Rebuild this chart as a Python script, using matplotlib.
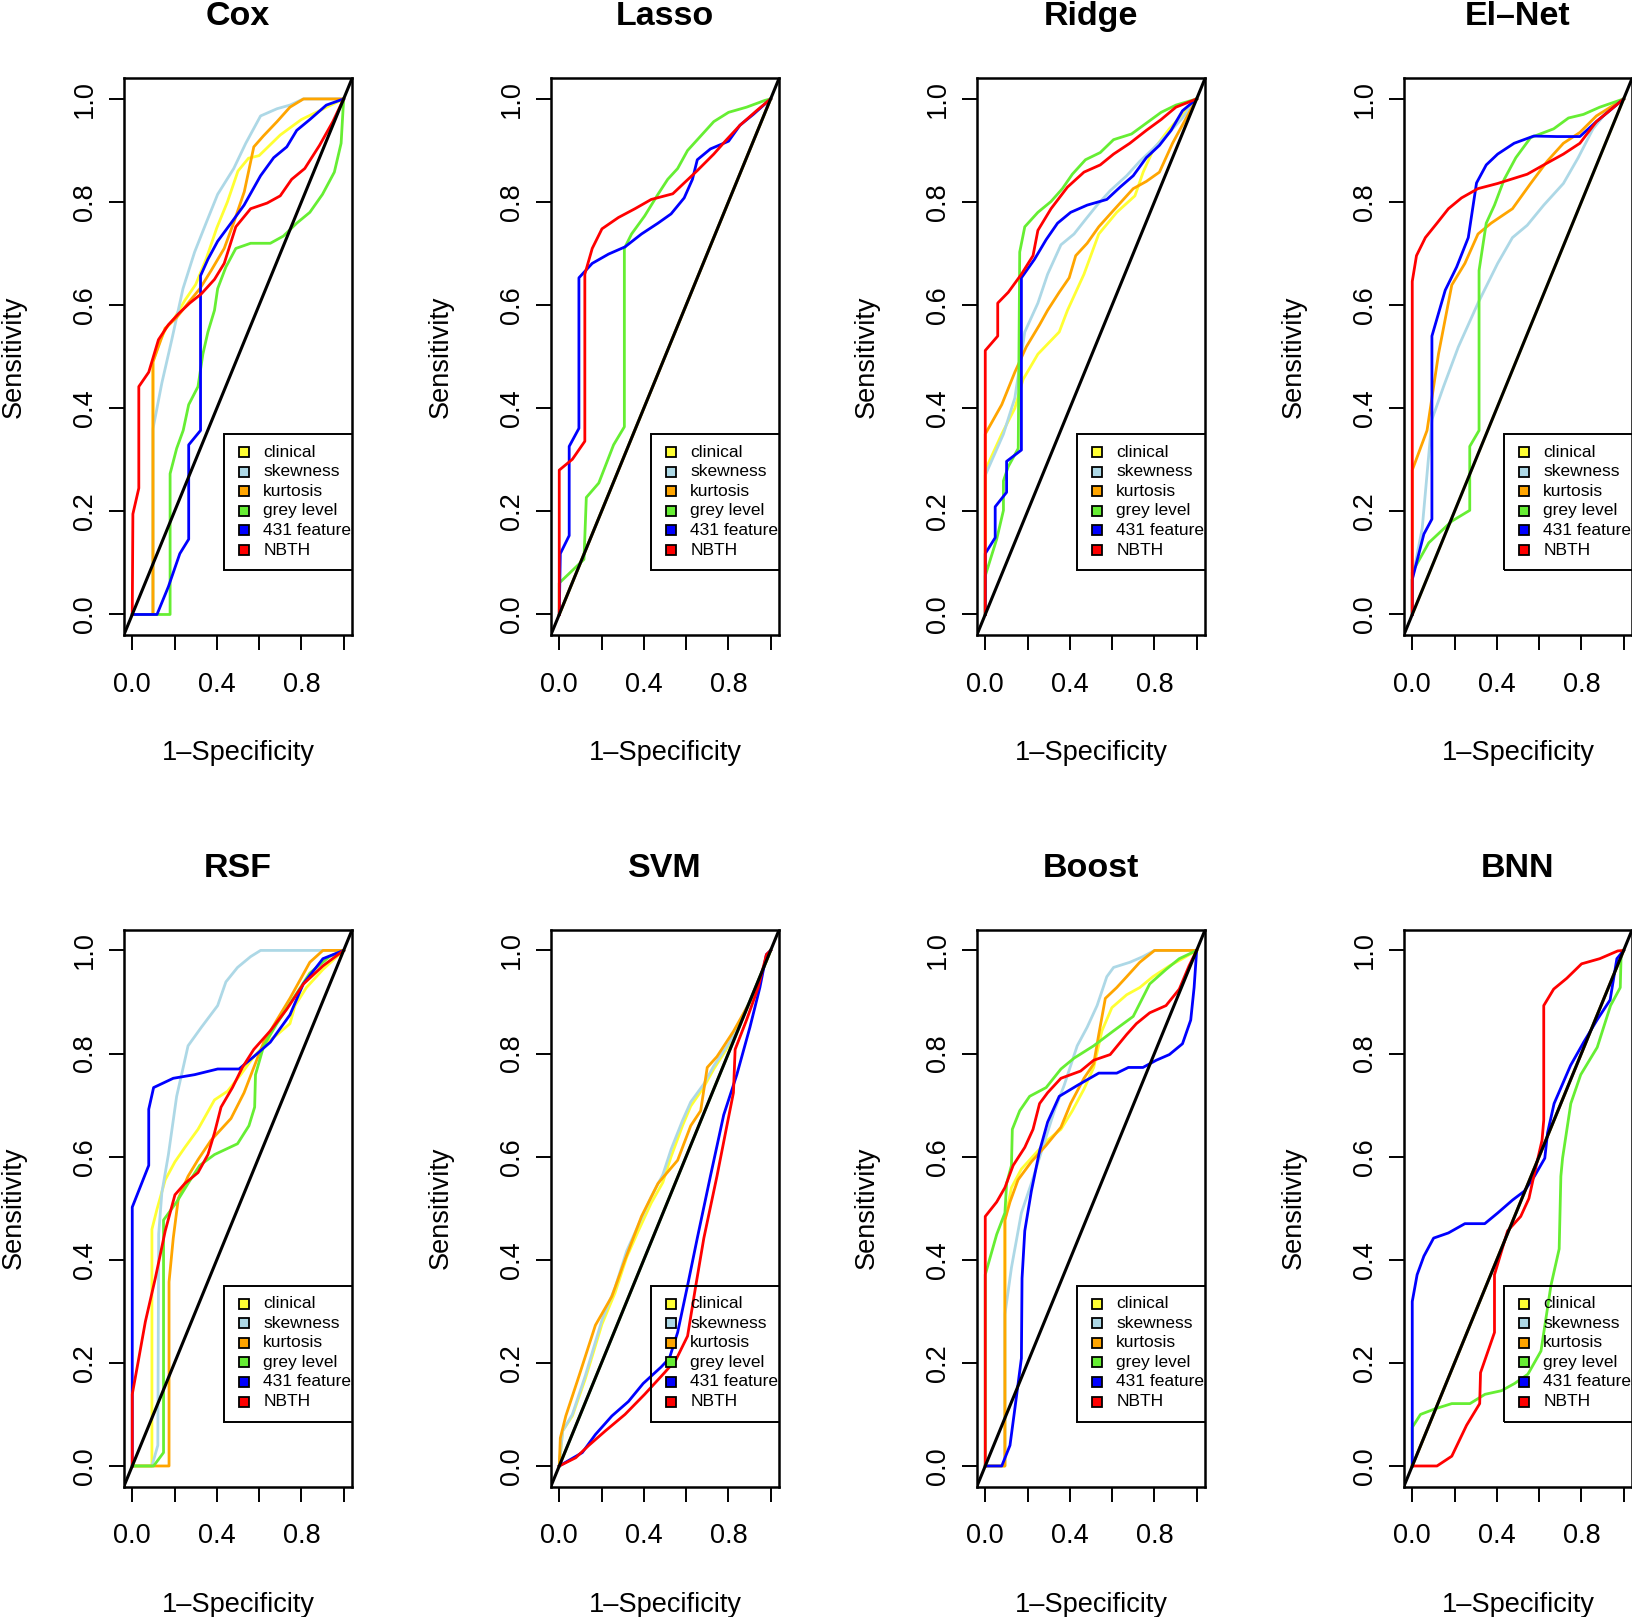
import matplotlib
matplotlib.use("Agg")
import matplotlib.pyplot as plt
from matplotlib.patches import Rectangle

plt.rcParams['font.family'] = ['Liberation Sans', 'DejaVu Sans']

# legend entries and colours (same for every panel)
series_names = ["clinical", "skewness", "kurtosis", "grey level", "431 features", "NBTH"]
series_colors = ["#FFFF33", "#ADD8E6", "#FFA500", "#66EE33", "#0000FF", "#FF0000"]

# ROC points (1-specificity, sensitivity)
diag = [(0, 0), (1, 1)]

cox = {
    "clinical": [(0, 0), (0.098, 0), (0.098, 0.49), (0.13, 0.53), (0.16, 0.555), (0.2, 0.575), (0.25, 0.61),
                 (0.3, 0.64), (0.35, 0.69), (0.4, 0.75), (0.45, 0.8), (0.5, 0.86), (0.55, 0.885), (0.6, 0.89),
                 (0.7, 0.93), (0.8, 0.96), (0.9, 0.98), (1, 1)],
    "skewness": [(0, 0), (0.098, 0), (0.098, 0.36), (0.14, 0.449), (0.187, 0.533), (0.24, 0.632), (0.295, 0.703),
                 (0.35, 0.76), (0.404, 0.815), (0.48, 0.865), (0.537, 0.914), (0.607, 0.967), (0.685, 0.981),
                 (0.746, 0.988), (0.81, 1), (1, 1)],
    "kurtosis": [(0, 0), (0.098, 0), (0.098, 0.49), (0.155, 0.555), (0.21, 0.576), (0.264, 0.604), (0.32, 0.632),
                 (0.373, 0.667), (0.435, 0.71), (0.48, 0.76), (0.53, 0.82), (0.575, 0.907), (0.62, 0.928),
                 (0.685, 0.956), (0.746, 0.984), (0.81, 1), (1, 1)],
    "grey level": [(0, 0), (0.179, 0), (0.179, 0.273), (0.21, 0.322), (0.241, 0.357), (0.267, 0.407),
                   (0.311, 0.442), (0.334, 0.505), (0.358, 0.548), (0.389, 0.59), (0.404, 0.632), (0.443, 0.674),
                   (0.49, 0.71), (0.56, 0.72), (0.653, 0.72), (0.715, 0.734), (0.778, 0.759), (0.84, 0.78),
                   (0.9, 0.815), (0.956, 0.858), (0.988, 0.914), (1, 1)],
    "431 features": [(0, 0), (0.117, 0), (0.171, 0.054), (0.225, 0.118), (0.267, 0.146), (0.267, 0.329),
                     (0.323, 0.357), (0.323, 0.657), (0.358, 0.689), (0.404, 0.724), (0.467, 0.759), (0.529, 0.794),
                     (0.607, 0.851), (0.669, 0.886), (0.731, 0.907), (0.778, 0.939), (0.84, 0.96), (0.918, 0.988),
                     (1, 1)],
    "NBTH": [(0, 0), (0.003, 0.195), (0.031, 0.245), (0.031, 0.442), (0.078, 0.47), (0.124, 0.533), (0.171, 0.562),
             (0.218, 0.583), (0.272, 0.604), (0.327, 0.622), (0.389, 0.65), (0.435, 0.681), (0.49, 0.752),
             (0.56, 0.787), (0.638, 0.798), (0.7, 0.812), (0.754, 0.844), (0.816, 0.865), (0.886, 0.91),
             (0.949, 0.956), (1, 1)],
}

lasso = {
    "clinical": diag,
    "skewness": diag,
    "kurtosis": diag,
    "grey level": [(0, 0), (0, 0.061), (0.117, 0.107), (0.128, 0.227), (0.187, 0.255), (0.257, 0.329),
                   (0.308, 0.364), (0.308, 0.71), (0.342, 0.738), (0.404, 0.773), (0.467, 0.815), (0.513, 0.844),
                   (0.56, 0.865), (0.607, 0.9), (0.669, 0.928), (0.731, 0.956), (0.801, 0.974), (0.886, 0.984),
                   (0.972, 0.997), (1, 1)],
    "431 features": [(0, 0), (0.005, 0.118), (0.047, 0.153), (0.047, 0.326), (0.093, 0.361), (0.093, 0.653),
                     (0.156, 0.681), (0.233, 0.699), (0.311, 0.713), (0.389, 0.738), (0.467, 0.759), (0.529, 0.777),
                     (0.591, 0.808), (0.63, 0.844), (0.653, 0.882), (0.715, 0.903), (0.801, 0.918), (0.855, 0.949),
                     (0.918, 0.97), (1, 1)],
    "NBTH": [(0, 0), (0, 0.28), (0.062, 0.301), (0.121, 0.336), (0.121, 0.66), (0.156, 0.71), (0.202, 0.748),
             (0.28, 0.77), (0.358, 0.787), (0.435, 0.805), (0.537, 0.816), (0.591, 0.837), (0.653, 0.861),
             (0.731, 0.893), (0.785, 0.918), (0.855, 0.949), (0.933, 0.977), (1, 1)],
}

ridge = {
    "clinical": [(0, 0), (0, 0.28), (0.078, 0.35), (0.14, 0.4), (0.179, 0.456), (0.249, 0.505), (0.35, 0.548),
                 (0.389, 0.59), (0.467, 0.66), (0.537, 0.738), (0.622, 0.78), (0.708, 0.812), (0.747, 0.858),
                 (0.793, 0.9), (0.871, 0.942), (0.933, 0.97), (1, 1)],
    "skewness": [(0, 0), (0, 0.27), (0.086, 0.35), (0.14, 0.42), (0.187, 0.548), (0.249, 0.604), (0.295, 0.66),
                 (0.358, 0.717), (0.42, 0.738), (0.474, 0.766), (0.529, 0.794), (0.591, 0.822), (0.669, 0.851),
                 (0.731, 0.879), (0.793, 0.903), (0.871, 0.935), (0.933, 0.963), (1, 1)],
    "kurtosis": [(0, 0), (0, 0.35), (0.078, 0.407), (0.14, 0.47), (0.194, 0.519), (0.257, 0.562), (0.295, 0.59),
                 (0.35, 0.625), (0.397, 0.653), (0.428, 0.696), (0.482, 0.72), (0.537, 0.752), (0.607, 0.784),
                 (0.7, 0.826), (0.762, 0.84), (0.824, 0.858), (0.886, 0.914), (1, 1)],
    "grey level": [(0, 0), (0, 0.075), (0.054, 0.146), (0.086, 0.202), (0.086, 0.259), (0.109, 0.287),
                   (0.156, 0.322), (0.163, 0.703), (0.187, 0.752), (0.249, 0.78), (0.311, 0.801), (0.365, 0.826),
                   (0.412, 0.854), (0.474, 0.882), (0.544, 0.896), (0.607, 0.921), (0.692, 0.932), (0.762, 0.953),
                   (0.832, 0.974), (0.902, 0.988), (1, 1)],
    "431 features": [(0, 0), (0, 0.118), (0.047, 0.149), (0.047, 0.209), (0.101, 0.237), (0.101, 0.297),
                     (0.171, 0.319), (0.171, 0.653), (0.233, 0.689), (0.288, 0.727), (0.342, 0.759), (0.404, 0.78),
                     (0.482, 0.794), (0.575, 0.805), (0.638, 0.829), (0.7, 0.851), (0.762, 0.886), (0.824, 0.91),
                     (0.879, 0.939), (0.933, 0.977), (1, 1)],
    "NBTH": [(0, 0), (0, 0.512), (0.059, 0.54), (0.059, 0.604), (0.109, 0.625), (0.171, 0.66), (0.226, 0.696),
             (0.249, 0.745), (0.311, 0.787), (0.389, 0.829), (0.467, 0.858), (0.544, 0.872), (0.607, 0.893),
             (0.684, 0.914), (0.762, 0.939), (0.832, 0.96), (0.902, 0.984), (1, 1)],
}

elnet = {
    "clinical": diag,
    "skewness": [(0, 0), (0, 0.068), (0.047, 0.167), (0.093, 0.378), (0.148, 0.442), (0.218, 0.519),
                 (0.311, 0.604), (0.404, 0.681), (0.474, 0.731), (0.544, 0.755), (0.622, 0.794), (0.715, 0.836),
                 (0.785, 0.886), (0.855, 0.942), (0.918, 0.974), (1, 1)],
    "kurtosis": [(0, 0), (0, 0.28), (0.07, 0.357), (0.093, 0.42), (0.124, 0.505), (0.187, 0.639), (0.249, 0.681),
                 (0.311, 0.738), (0.373, 0.759), (0.474, 0.787), (0.56, 0.836), (0.638, 0.879), (0.715, 0.914),
                 (0.793, 0.935), (0.871, 0.967), (1, 1)],
    "grey level": [(0, 0), (0, 0.082), (0.078, 0.139), (0.187, 0.181), (0.272, 0.202), (0.272, 0.326),
                   (0.316, 0.357), (0.316, 0.667), (0.35, 0.759), (0.389, 0.794), (0.435, 0.844), (0.49, 0.886),
                   (0.56, 0.925), (0.669, 0.942), (0.739, 0.963), (0.81, 0.97), (0.887, 0.984), (1, 1)],
    "431 features": [(0, 0), (0, 0.068), (0.055, 0.156), (0.093, 0.185), (0.093, 0.54), (0.156, 0.629),
                     (0.21, 0.674), (0.265, 0.731), (0.304, 0.837), (0.35, 0.872), (0.404, 0.893), (0.482, 0.914),
                     (0.575, 0.928), (0.684, 0.927), (0.793, 0.927), (0.871, 0.956), (0.933, 0.977), (1, 1)],
    "NBTH": [(0, 0), (0, 0.646), (0.02, 0.696), (0.062, 0.731), (0.117, 0.759), (0.171, 0.787), (0.233, 0.808),
             (0.311, 0.826), (0.404, 0.836), (0.544, 0.854), (0.622, 0.872), (0.715, 0.893), (0.793, 0.914),
             (0.871, 0.956), (0.933, 0.977), (1, 1)],
}

rsf = {
    "clinical": [(0, 0), (0.093, 0), (0.093, 0.459), (0.117, 0.498), (0.156, 0.555), (0.202, 0.59), (0.249, 0.618),
                 (0.311, 0.653), (0.389, 0.71), (0.451, 0.727), (0.513, 0.759), (0.575, 0.794), (0.638, 0.822),
                 (0.684, 0.836), (0.746, 0.858), (0.77, 0.893), (0.824, 0.928), (0.902, 0.963), (1, 1)],
    "skewness": [(0, 0), (0.093, 0), (0.121, 0.04), (0.125, 0.45), (0.14, 0.53), (0.171, 0.604), (0.21, 0.717),
                 (0.241, 0.773), (0.264, 0.815), (0.327, 0.851), (0.404, 0.893), (0.443, 0.939), (0.498, 0.967),
                 (0.56, 0.988), (0.607, 1), (1, 1)],
    "kurtosis": [(0, 0), (0.174, 0), (0.174, 0.357), (0.194, 0.442), (0.218, 0.519), (0.264, 0.562), (0.311, 0.594),
                 (0.373, 0.632), (0.467, 0.674), (0.529, 0.724), (0.575, 0.773), (0.622, 0.822), (0.684, 0.865),
                 (0.746, 0.907), (0.84, 0.977), (0.902, 1), (1, 1)],
    "grey level": [(0, 0), (0.101, 0), (0.148, 0.026), (0.148, 0.477), (0.21, 0.512), (0.264, 0.548),
                   (0.319, 0.583), (0.389, 0.604), (0.498, 0.625), (0.552, 0.66), (0.579, 0.696), (0.583, 0.759),
                   (0.622, 0.815), (0.684, 0.858), (0.762, 0.907), (0.84, 0.956), (0.933, 0.988), (1, 1)],
    "431 features": [(0, 0), (0, 0.502), (0.078, 0.583), (0.078, 0.692), (0.101, 0.734), (0.194, 0.752),
                     (0.295, 0.759), (0.404, 0.77), (0.505, 0.77), (0.575, 0.794), (0.653, 0.822), (0.746, 0.875),
                     (0.809, 0.935), (0.902, 0.984), (1, 1)],
    "NBTH": [(0, 0), (0, 0.139), (0.031, 0.209), (0.062, 0.28), (0.109, 0.364), (0.156, 0.456), (0.202, 0.526),
             (0.249, 0.548), (0.311, 0.569), (0.358, 0.604), (0.389, 0.646), (0.42, 0.696), (0.474, 0.734),
             (0.521, 0.773), (0.575, 0.808), (0.653, 0.844), (0.731, 0.886), (0.81, 0.935), (0.902, 0.97), (1, 1)],
}

svm = {
    "clinical": [(0, 0), (0.016, 0.068), (0.062, 0.097), (0.124, 0.17), (0.202, 0.275), (0.264, 0.336),
                 (0.319, 0.405), (0.373, 0.455), (0.435, 0.51), (0.49, 0.55), (0.529, 0.6), (0.583, 0.66),
                 (0.622, 0.698), (0.684, 0.735), (0.731, 0.77), (0.809, 0.82), (0.902, 0.9), (1, 1)],
    "skewness": [(0, 0), (0.016, 0.068), (0.062, 0.1), (0.124, 0.176), (0.202, 0.283), (0.264, 0.346),
                 (0.319, 0.417), (0.373, 0.466), (0.435, 0.522), (0.49, 0.565), (0.529, 0.614), (0.583, 0.67),
                 (0.622, 0.706), (0.684, 0.741), (0.731, 0.776), (0.809, 0.824), (0.902, 0.902), (1, 1)],
    "kurtosis": [(0, 0), (0.005, 0.054), (0.031, 0.097), (0.093, 0.174), (0.171, 0.273), (0.249, 0.329),
                 (0.311, 0.4), (0.389, 0.484), (0.467, 0.548), (0.56, 0.593), (0.622, 0.66), (0.669, 0.689),
                 (0.7, 0.773), (0.746, 0.794), (0.824, 0.843), (0.902, 0.9), (1, 1)],
    "grey level": diag,
    "431 features": [(0, 0), (0.109, 0.026), (0.171, 0.061), (0.249, 0.097), (0.327, 0.125), (0.397, 0.16),
                     (0.482, 0.192), (0.521, 0.209), (0.56, 0.259), (0.607, 0.35), (0.653, 0.442), (0.715, 0.562),
                     (0.778, 0.681), (0.84, 0.759), (0.902, 0.851), (0.949, 0.928), (0.98, 0.992), (1, 1)],
    "NBTH": [(0, 0), (0.078, 0.016), (0.14, 0.04), (0.218, 0.068), (0.311, 0.1), (0.404, 0.139), (0.498, 0.181),
             (0.552, 0.206), (0.607, 0.252), (0.646, 0.35), (0.684, 0.442), (0.746, 0.562), (0.793, 0.66),
             (0.824, 0.724), (0.832, 0.808), (0.886, 0.865), (0.941, 0.928), (0.98, 0.992), (1, 1)],
}

boost = {
    "clinical": [(0, 0), (0.093, 0), (0.093, 0.477), (0.124, 0.54), (0.171, 0.576), (0.233, 0.604), (0.295, 0.632),
                 (0.358, 0.653), (0.412, 0.689), (0.467, 0.731), (0.513, 0.773), (0.552, 0.844), (0.599, 0.889),
                 (0.669, 0.914), (0.731, 0.928), (0.793, 0.949), (0.871, 0.97), (0.933, 0.984), (1, 1)],
    "skewness": [(0, 0), (0.093, 0), (0.093, 0.294), (0.124, 0.385), (0.171, 0.491), (0.218, 0.548),
                 (0.272, 0.618), (0.327, 0.689), (0.373, 0.738), (0.435, 0.815), (0.482, 0.851), (0.529, 0.893),
                 (0.575, 0.949), (0.607, 0.967), (0.684, 0.977), (0.746, 0.988), (0.801, 1), (1, 1)],
    "kurtosis": [(0, 0), (0.093, 0), (0.093, 0.477), (0.117, 0.512), (0.155, 0.555), (0.218, 0.59), (0.288, 0.622),
                 (0.358, 0.657), (0.404, 0.703), (0.467, 0.752), (0.513, 0.78), (0.537, 0.837), (0.568, 0.907),
                 (0.622, 0.928), (0.669, 0.949), (0.731, 0.977), (0.801, 1), (1, 1)],
    "grey level": [(0, 0), (0, 0.371), (0.054, 0.449), (0.093, 0.491), (0.101, 0.548), (0.124, 0.583),
                   (0.128, 0.653), (0.163, 0.689), (0.21, 0.717), (0.288, 0.734), (0.358, 0.77), (0.42, 0.791),
                   (0.513, 0.815), (0.607, 0.844), (0.7, 0.872), (0.778, 0.935), (0.855, 0.963), (0.918, 0.984),
                   (1, 1)],
    "431 features": [(0, 0), (0.078, 0), (0.117, 0.04), (0.14, 0.111), (0.171, 0.209), (0.174, 0.364),
                     (0.187, 0.456), (0.218, 0.533), (0.257, 0.611), (0.295, 0.667), (0.35, 0.717), (0.435, 0.738),
                     (0.537, 0.762), (0.622, 0.762), (0.677, 0.773), (0.746, 0.773), (0.809, 0.787), (0.871, 0.798),
                     (0.933, 0.819), (0.972, 0.865), (0.988, 0.928), (1, 1)],
    "NBTH": [(0, 0), (0, 0.484), (0.054, 0.512), (0.093, 0.54), (0.132, 0.583), (0.187, 0.618), (0.226, 0.653),
             (0.257, 0.703), (0.295, 0.724), (0.358, 0.752), (0.451, 0.766), (0.513, 0.787), (0.591, 0.798),
             (0.669, 0.837), (0.715, 0.858), (0.778, 0.879), (0.855, 0.893), (0.918, 0.925), (0.964, 0.97), (1, 1)],
}

bnn = {
    "clinical": diag,
    "skewness": diag,
    "kurtosis": diag,
    "grey level": [(0, 0), (0, 0.075), (0.039, 0.1), (0.109, 0.111), (0.187, 0.121), (0.273, 0.121),
                   (0.344, 0.139), (0.422, 0.146), (0.484, 0.16), (0.547, 0.178), (0.609, 0.223), (0.656, 0.35),
                   (0.695, 0.421), (0.703, 0.562), (0.711, 0.597), (0.75, 0.703), (0.797, 0.759), (0.875, 0.812),
                   (0.938, 0.893), (0.984, 0.928), (0.988, 0.992), (1, 1)],
    "431 features": [(0, 0), (0, 0.319), (0.023, 0.371), (0.055, 0.407), (0.101, 0.442), (0.171, 0.452),
                     (0.249, 0.47), (0.343, 0.47), (0.405, 0.491), (0.475, 0.516), (0.53, 0.533), (0.578, 0.562),
                     (0.627, 0.597), (0.64, 0.646), (0.671, 0.703), (0.749, 0.777), (0.811, 0.822), (0.874, 0.865),
                     (0.936, 0.904), (0.968, 0.984), (1, 1)],
    "NBTH": [(0, 0), (0.117, 0), (0.187, 0.019), (0.257, 0.079), (0.319, 0.121), (0.323, 0.181), (0.389, 0.259),
             (0.389, 0.371), (0.451, 0.456), (0.513, 0.484), (0.552, 0.519), (0.575, 0.562), (0.614, 0.632),
             (0.622, 0.671), (0.622, 0.893), (0.669, 0.925), (0.731, 0.946), (0.801, 0.974), (0.887, 0.984),
             (0.972, 0.999), (1, 1)],
}

panel_titles = ["Cox", "Lasso", "Ridge", "El\u2013Net", "RSF", "SVM", "Boost", "BNN"]
panel_data = [cox, lasso, ridge, elnet, rsf, svm, boost, bnn]

# layout in pixels of the full picture
W, H = 1633, 1617
col_left = [123.8, 550.8, 976.8, 1403.8]
row_top = [78.3, 929.8]
box_w, box_h = 228.3, 556.8

fig = plt.figure(figsize=(W / 100, H / 100), dpi=100)

for k, (title, curves) in enumerate(zip(panel_titles, panel_data)):
    r, c = divmod(k, 4)
    left, top = col_left[c], row_top[r]
    ax = fig.add_axes([left / W, 1 - (top + box_h) / H, box_w / W, box_h / H])
    ax.set_xlim(-0.04, 1.04)
    ax.set_ylim(-0.04, 1.04)

    for name, color in zip(series_names, series_colors):
        pts = curves[name]
        ax.plot([p[0] for p in pts], [p[1] for p in pts], color=color, lw=2.0, zorder=2)
    ax.axline((0, 0), slope=1, color="black", lw=2.2, zorder=3)

    # base-R style legend: transparent box, clipped at the plot edge
    ax.add_patch(Rectangle((0.434, 0.086), 1.0, 0.264, fill=False, edgecolor="black", lw=1.4,
                           clip_on=True, zorder=4))
    for i, (name, color) in enumerate(zip(series_names, series_colors)):
        yy = 0.315 - i * 0.038
        ax.plot([0.527], [yy], marker="s", ms=7.5, mfc=color, mec="black", mew=1.3, ls="none", zorder=5)
        ax.text(0.62, yy, name, fontsize=12.5, va="center", ha="left", clip_on=True, zorder=5)

    ax.set_xticks([0, 0.2, 0.4, 0.6, 0.8, 1.0])
    ax.set_xticklabels(["0.0", "", "0.4", "", "0.8", ""])
    ax.set_yticks([0, 0.2, 0.4, 0.6, 0.8, 1.0])
    ax.set_yticklabels(["0.0", "0.2", "0.4", "0.6", "0.8", "1.0"], rotation=90, va="center")
    ax.tick_params(axis="both", direction="out", length=10.5, width=1.4, labelsize=19.5)
    ax.tick_params(axis="x", pad=16)
    ax.tick_params(axis="y", pad=8)
    for s in ax.spines.values():
        s.set_linewidth(1.8)

    cx = left + box_w / 2
    fig.text(cx / W, 1 - (top - 53) / H, title, fontsize=24.5, fontweight="bold", ha="center", va="baseline")
    fig.text(cx / W, 1 - (top + box_h + 125) / H, "1\u2013Specificity", fontsize=19.5, ha="center", va="baseline")
    fig.text((left - 110) / W, 1 - (top + box_h / 2) / H, "Sensitivity", fontsize=19.5, rotation=90,
             ha="center", va="center")

fig.savefig("out.png", dpi=100)
